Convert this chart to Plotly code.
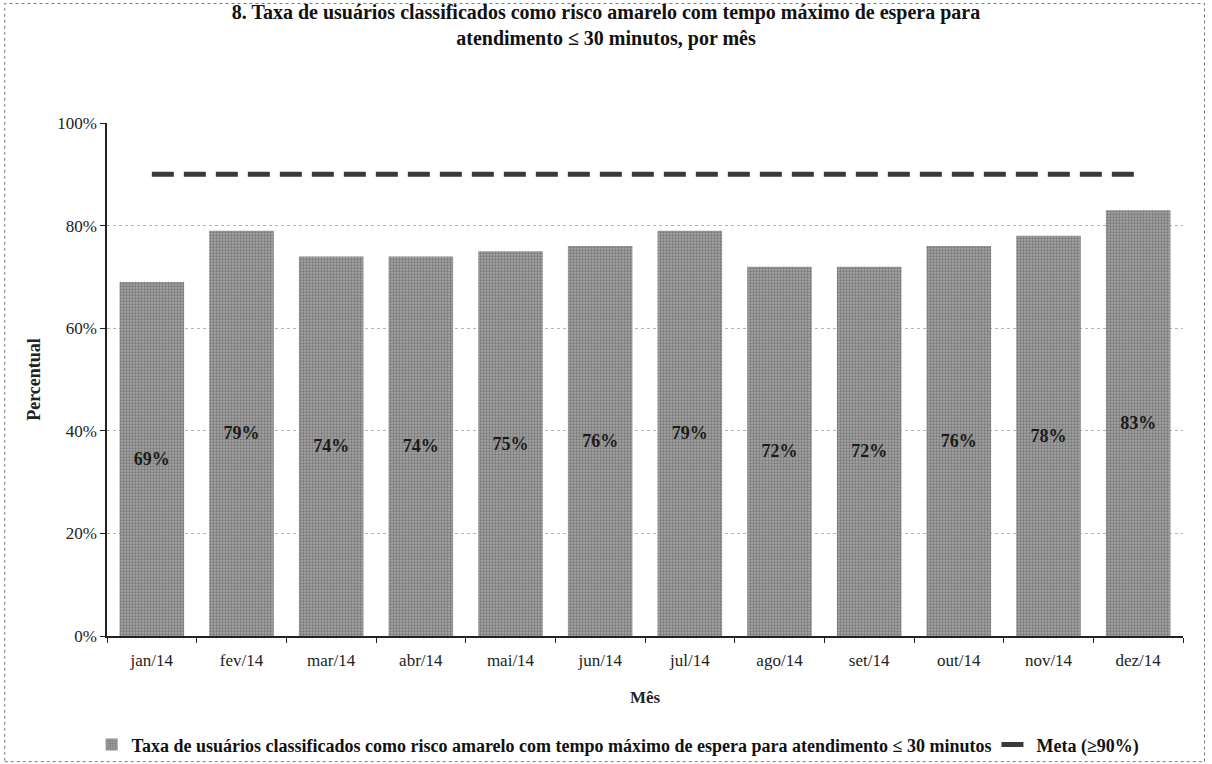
import plotly.graph_objects as go

# dados
meses = ["jan/14", "fev/14", "mar/14", "abr/14", "mai/14", "jun/14",
         "jul/14", "ago/14", "set/14", "out/14", "nov/14", "dez/14"]
taxa = [69, 79, 74, 74, 75, 76, 79, 72, 72, 76, 78, 83]
meta = [90] * 12
rotulos = [f"{v}%" for v in taxa]

SERIF = "Liberation Serif, Times New Roman, serif"

fig = go.Figure()

fig.add_trace(go.Bar(
    x=meses,
    y=taxa,
    name="Taxa de usuários classificados como risco amarelo com tempo máximo de espera para atendimento ≤ 30 minutos",
    marker=dict(
        color="#a0a0a0",
        line=dict(width=0),
        pattern=dict(shape=".", fgcolor="#4a4a4a", bgcolor="#a4a4a4", size=3, solidity=0.45),
    ),
    text=rotulos,
    textposition="inside",
    insidetextanchor="middle",
    textfont=dict(family=SERIF, size=18, color="#1a1a1a", weight="bold"),
))

fig.add_trace(go.Scatter(
    x=meses,
    y=meta,
    mode="lines",
    name="Meta (≥90%)",
    line=dict(color="#3a3a3a", width=5, dash="22px,10px"),
))

fig.update_layout(
    width=1212,
    height=764,
    title=dict(
        text="8. Taxa de usuários classificados como risco amarelo com tempo máximo de espera para<br>atendimento ≤ 30 minutos, por mês",
        x=0.5, xanchor="center", y=0.975, yanchor="top",
        font=dict(family=SERIF, size=20, color="#111111", weight="bold"),
    ),
    paper_bgcolor="white",
    plot_bgcolor="white",
    font=dict(family=SERIF, size=17, color="#222222"),
    margin=dict(l=107, r=29, t=123, b=128),
    bargap=0.28,
    showlegend=True,
    legend=dict(
        orientation="h",
        xref="container", x=0.51, xanchor="center",
        yref="container", y=0.025, yanchor="middle",
        font=dict(family=SERIF, size=18, color="#111111", weight="bold"),
        bgcolor="rgba(255,255,255,0)",
        itemsizing="constant",
        tracegroupgap=0,
    ),
    xaxis=dict(
        title=dict(text="Mês", font=dict(family=SERIF, size=17, weight="bold"), standoff=22),
        showline=True, linecolor="#222222", linewidth=1.5,
        ticks="outside", tickson="boundaries", ticklen=5, tickcolor="#222222",
        ticklabelstandoff=8,
        showgrid=False,
        tickfont=dict(family=SERIF, size=17),
        automargin=False,
    ),
    yaxis=dict(
        title=dict(text="Percentual", font=dict(family=SERIF, size=18, weight="bold"), standoff=12),
        range=[0, 100],
        tickvals=[0, 20, 40, 60, 80, 100],
        ticktext=["0%", "20%", "40%", "60%", "80%", "100%"],
        showline=True, linecolor="#222222", linewidth=1.5,
        ticks="outside", ticklen=5, tickcolor="#222222",
        showgrid=True, gridcolor="#b5b5b5", griddash="dot", gridwidth=1,
        zeroline=False,
        tickfont=dict(family=SERIF, size=17),
        automargin=False,
    ),
    shapes=[dict(
        type="rect", xref="paper", yref="paper",
        x0=-0.095, x1=1.02, y0=-0.245, y1=1.233,
        line=dict(color="#777777", width=1, dash="dot"),
    )],
)

# a página tem margem padrão de 8px no body; zera para alinhar
fig.write_html(
    "out.html",
    config={"displayModeBar": False},
    post_script="document.body.style.margin='0';",
)
